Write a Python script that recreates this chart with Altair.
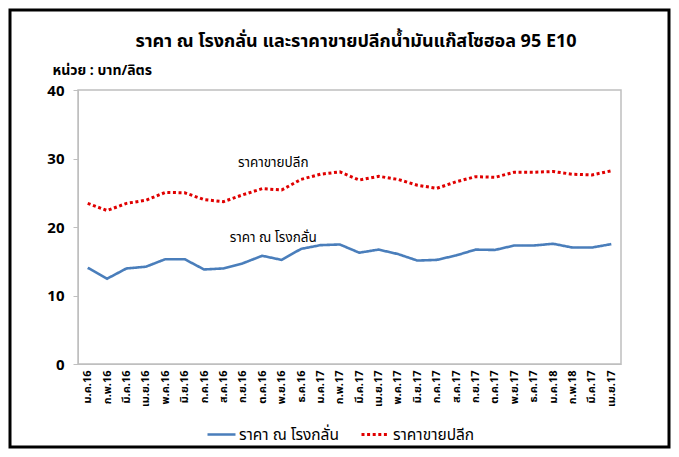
import altair as alt
import pandas as pd

months = ["ม.ค.16", "ก.พ.16", "มี.ค.16", "เม.ย.16", "พ.ค.16", "มิ.ย.16", "ก.ค.16",
          "ส.ค.16", "ก.ย.16", "ต.ค.16", "พ.ย.16", "ธ.ค.16", "ม.ค.17", "ก.พ.17",
          "มี.ค.17", "เม.ย.17", "พ.ค.17", "มิ.ย.17", "ก.ค.17", "ส.ค.17", "ก.ย.17",
          "ต.ค.17", "พ.ย.17", "ธ.ค.17", "ม.ค.18", "ก.พ.18", "มี.ค.17", "เม.ย.17"]
refinery = [14.05, 12.45, 13.95, 14.2, 15.3, 15.3, 13.8, 13.95, 14.7, 15.8, 15.2, 16.8,
            17.35, 17.45, 16.25, 16.7, 16.05, 15.1, 15.2, 15.85, 16.7, 16.65, 17.3, 17.3,
            17.55, 17.0, 17.0, 17.5]
retail = [23.45, 22.4, 23.45, 23.9, 25.05, 25.0, 24.0, 23.7, 24.7, 25.6, 25.4, 26.95,
          27.7, 28.05, 26.85, 27.4, 26.95, 26.1, 25.65, 26.6, 27.35, 27.25, 28.0, 28.0,
          28.1, 27.7, 27.6, 28.2]
series_names = ["ราคา ณ โรงกลั่น", "ราคาขายปลีก"]
title_text = "ราคา ณ โรงกลั่น และราคาขายปลีกน้ำมันแก๊สโซฮอล 95 E10"
unit_text = "หน่วย : บาท/ลิตร"

FONT = "Tahoma, Noto Sans Thai, Loma, Garuda, Noto Sans, DejaVu Sans, sans-serif"
BLUE = "#4A7EBB"
RED = "#E00000"

rows = []
for i, m in enumerate(months):
    rows.append({"i": i, "series": series_names[0], "value": refinery[i]})
    rows.append({"i": i, "series": series_names[1], "value": retail[i]})
df = pd.DataFrame(rows)

label_array = "[" + ",".join("'" + m + "'" for m in months) + "]"

x_enc = alt.X("i:O", title=None,
              axis=alt.Axis(labelExpr=label_array + "[datum.value]", labelAngle=-90,
                            labelFontWeight="bold", labelFontSize=11, labelFont=FONT,
                            labelColor="#000", ticks=False, labelPadding=6,
                            domainColor="#BFBFBF", domainWidth=1))
y_enc = alt.Y("value:Q",
              scale=alt.Scale(domain=[0, 40], nice=False),
              axis=alt.Axis(values=[0, 10, 20, 30, 40], grid=False, title=unit_text,
                            titleAngle=0, titleAlign="left", titleBaseline="middle",
                            titleX=-26, titleY=-20, titleFont=FONT, titleFontSize=14,
                            titleFontWeight="bold", titleColor="#000",
                            labelFont=FONT, labelFontSize=15, labelFontWeight="bold",
                            labelColor="#000", tickSize=5, tickColor="#BFBFBF",
                            labelPadding=9, domainColor="#BFBFBF"))

legend_cfg = dict(orient="none", legendX=128, legendY=329,
                  direction="horizontal", columns=2,
                  symbolType="stroke", symbolSize=784,
                  symbolStrokeWidth=3, labelFont=FONT,
                  labelFontSize=15.5, labelColor="#000",
                  labelOffset=2, columnPadding=16,
                  labelLimit=300)

lines = alt.Chart(df).mark_line(strokeCap="butt").encode(
    x=x_enc,
    y=y_enc,
    color=alt.Color("series:N", title=None,
                    scale=alt.Scale(domain=series_names, range=[BLUE, RED]),
                    legend=alt.Legend(**legend_cfg)),
    strokeDash=alt.StrokeDash("series:N", title=None,
                              scale=alt.Scale(domain=series_names,
                                              range=[[1, 0], [3, 2.6]]),
                              legend=alt.Legend(**legend_cfg)),
    strokeWidth=alt.StrokeWidth("series:N", legend=None,
                                scale=alt.Scale(domain=series_names, range=[2.6, 3])),
)

ann_df = pd.DataFrame({
    "i": [9, 9],
    "value": [29.3, 18.4],
    "text": [series_names[1], series_names[0]],
})
annotations = alt.Chart(ann_df).mark_text(font=FONT, fontSize=13.5, color="#000",
                                          dx=11).encode(
    x=alt.X("i:O"), y=alt.Y("value:Q"), text="text:N")

one = pd.DataFrame({"t": [title_text]})
title_mark = alt.Chart(one).mark_text(font=FONT, fontSize=18, fontWeight="bold",
                                      color="#000", align="center",
                                      baseline="middle").encode(
    x=alt.value(278), y=alt.value(-48), text="t:N")

frame = alt.Chart(pd.DataFrame({"a": [0]})).mark_rect(
    fill=None, fillOpacity=0, stroke="#000", strokeWidth=3).encode(
    x=alt.value(-68), x2=alt.value(591), y=alt.value(-80), y2=alt.value(357))

chart = alt.layer(frame, lines, annotations, title_mark).properties(
    width=543, height=274,
    padding={"left": 70, "top": 82, "right": 50, "bottom": 85},
    autosize=alt.AutoSizeParams(type="none"),
    background="white",
).configure_view(stroke="#BFBFBF", strokeWidth=1.5)

chart.save("out.html", embed_options={"renderer": "svg", "actions": False})
